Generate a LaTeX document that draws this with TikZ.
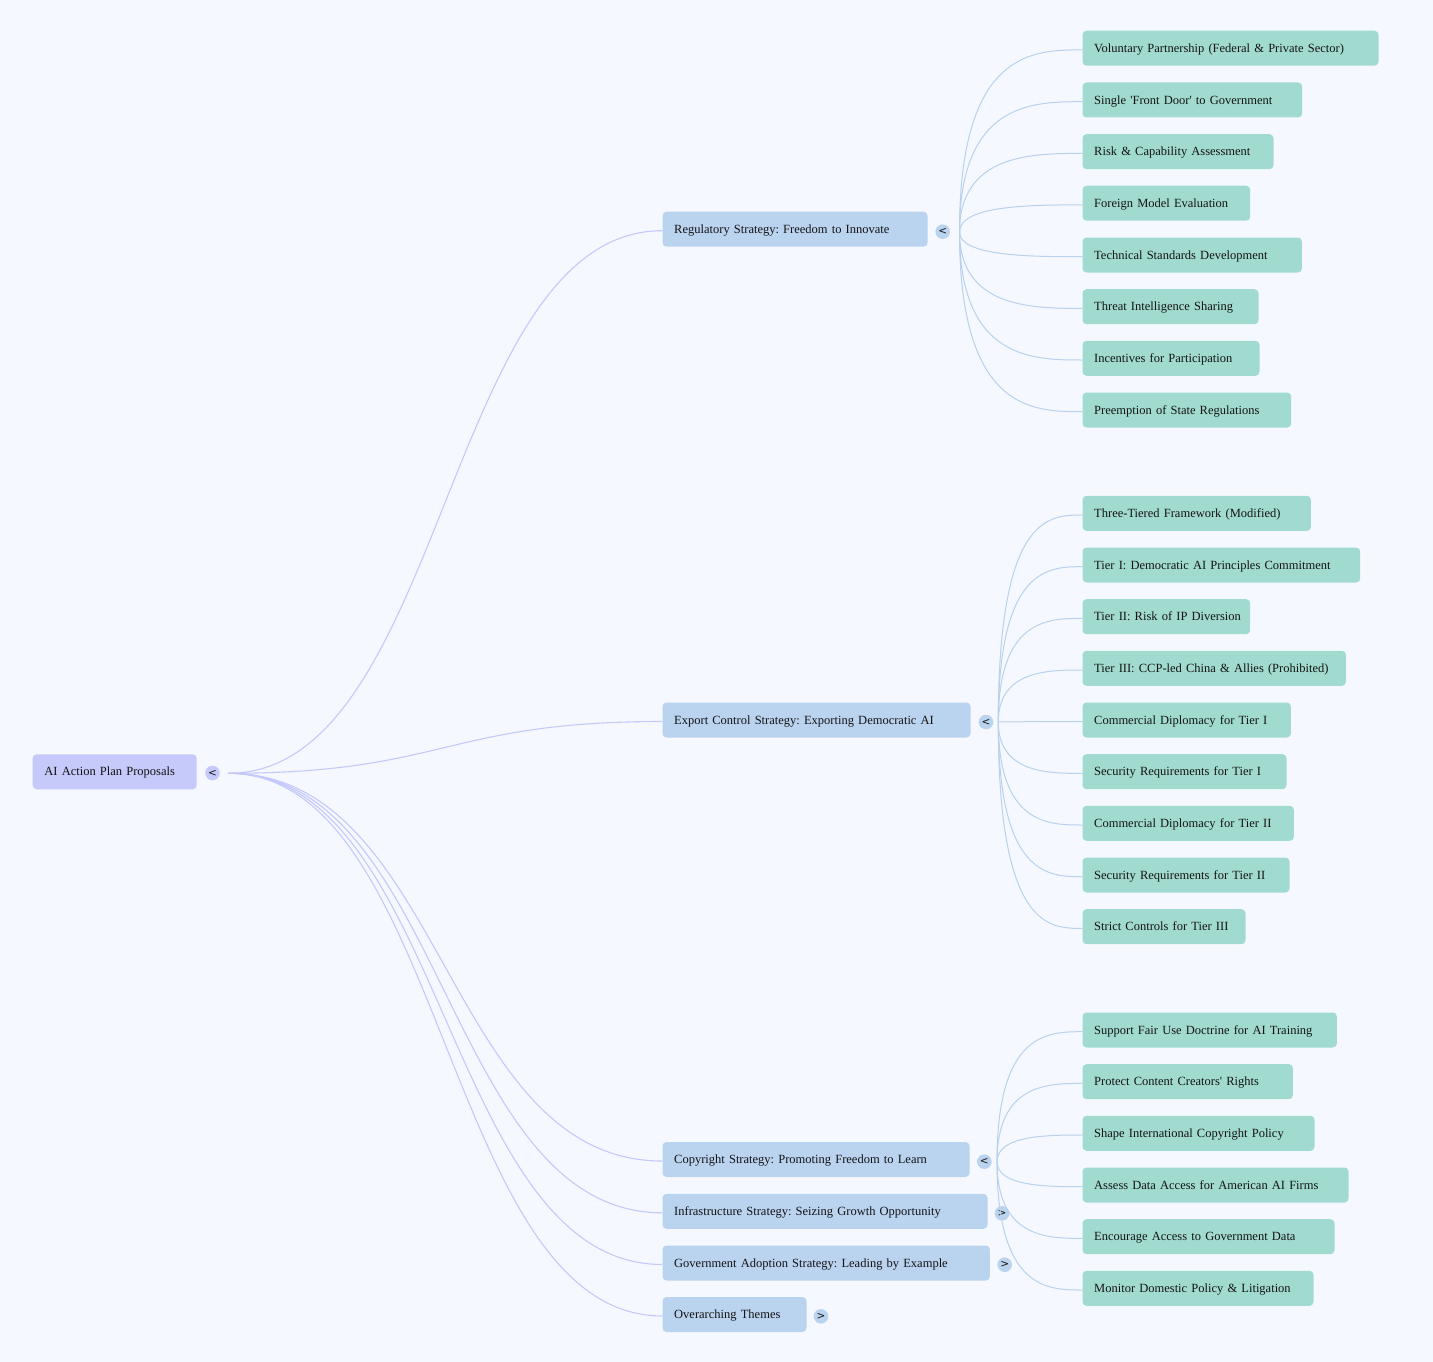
\documentclass[tikz,border=0pt]{standalone}
\usepackage{fontspec}
\setmainfont{Liberation Serif}
\newfontfamily\togfont{DejaVu Sans}
\usetikzlibrary{calc}
\frenchspacing
\definecolor{bgc}{RGB}{245,249,255}
\definecolor{rootc}{RGB}{197,202,251}
\definecolor{midc}{RGB}{186,211,239}
\definecolor{leafc}{RGB}{161,219,207}
\definecolor{rootedgec}{RGB}{196,200,250}
\definecolor{leafedgec}{RGB}{184,209,238}
\definecolor{txtc}{RGB}{20,20,20}
\newcommand\rlink[2]{\draw[rootedge] let \p1=(#1), \p2=([yshift=-1.5pt]#2.west) in (\p1) .. controls ({0.5*\x1+0.5*\x2},\y1) and ({0.5*\x1+0.5*\x2},\y2) .. (\p2);}
\newcommand\llink[2]{\draw[leafedge] let \p1=(#1), \p2=([yshift=-1.7pt]#2.west) in (\p1) .. controls (\x1,\y2) and ({\x1+0.6*(\x2-\x1)},\y2) .. (\p2);}
\begin{document}
\begin{tikzpicture}[x=1pt,y=-1pt,
  box/.style={anchor=west, rounded corners=4pt, minimum height=35pt, inner xsep=11.7pt, inner ysep=0pt,
    align=left, text height=8.3pt, text depth=0pt, font=\fontsize{12.5}{14}\selectfont\frenchspacing, text=txtc,
    execute at begin node={\hbox\bgroup}, execute at end node={\egroup}},
  rootbox/.style={box, fill=rootc},
  midbox/.style={box, fill=midc},
  leafbox/.style={box, fill=leafc},
  tog/.style={circle, minimum size=14.6pt, inner sep=0pt, text=txtc, font=\togfont\fontsize{10.5}{10.5}\selectfont},
  rtog/.style={tog, fill=rootc},
  mtog/.style={tog, fill=midc},
  rootedge/.style={draw=rootedgec, line width=1.1pt},
  leafedge/.style={draw=leafedgec, line width=1pt}]
\useasboundingbox[fill=bgc] (0,0) rectangle (1433,1362);

% root
\node[rootbox, text width=140.6pt] (root) at (32.5,771.8) {AI Action Plan Proposals};
\node[rtog] (troot) at (212.5,773) {<};
\coordinate (froot) at (228.3,773.3);

% mid nodes
\node[midbox, text width=241.6pt] (reg) at (662.3,229.2) {Regulatory Strategy: Freedom to Innovate};
\node[midbox, text width=284.6pt] (exp) at (662.3,720) {Export Control Strategy: Exporting Democratic AI};
\node[midbox, text width=283.6pt] (copy) at (662.3,1159.5) {Copyright Strategy: Promoting Freedom to Learn};
\node[midbox, text width=301.6pt] (infra) at (662.3,1211.3) {Infrastructure Strategy: Seizing Growth Opportunity};
\node[midbox, text width=304pt] (gov) at (662.3,1263) {Government Adoption Strategy: Leading by Example};
\node[midbox, text width=120.6pt] (over) at (662.3,1314.5) {Overarching Themes};

\node[mtog] (treg) at (942.7,231.7) {<};
\node[mtog] (texp) at (986,722) {<};
\node[mtog] (tcopy) at (984.3,1161.7) {<};
\node[mtog] (tinfra) at (1002,1213.3) {>};
\node[mtog] (tgov) at (1004.7,1264.7) {>};
\node[mtog] (tover) at (821,1316.3) {>};

\coordinate (freg) at (959.5,232);
\coordinate (fexp) at (998.3,722);
\coordinate (fcopy) at (997,1161.7);

% regulatory leaves
\node[leafbox, text width=272.6pt] (r1) at (1082.3,48.2) {Voluntary Partnership (Federal \& Private Sector)};
\node[leafbox, text width=196.3pt] (r2) at (1082.3,100) {Single \textquotesingle Front Door\textquotesingle{} to Government};
\node[leafbox, text width=167.6pt] (r3) at (1082.3,151.7) {Risk \& Capability Assessment};
\node[leafbox, text width=144.3pt] (r4) at (1082.3,203.2) {Foreign Model Evaluation};
\node[leafbox, text width=196pt] (r5) at (1082.3,255) {Technical Standards Development};
\node[leafbox, text width=152.6pt] (r6) at (1082.3,306.7) {Threat Intelligence Sharing};
\node[leafbox, text width=153.6pt] (r7) at (1082.3,358.3) {Incentives for Participation};
\node[leafbox, text width=185.3pt] (r8) at (1082.3,410) {Preemption of State Regulations};

% export leaves
\node[leafbox, text width=205pt] (e1) at (1082.3,513.3) {Three-Tiered Framework (Modified)};
\node[leafbox, text width=254.3pt] (e2) at (1082.3,565) {Tier I: Democratic AI Principles Commitment};
\node[leafbox, text width=144.3pt] (e3) at (1082.3,616.7) {Tier II: Risk of IP Diversion};
\node[leafbox, text width=240pt] (e4) at (1082.3,668.3) {Tier III: CCP-led China \& Allies (Prohibited)};
\node[leafbox, text width=185pt] (e5) at (1082.3,720) {Commercial Diplomacy for Tier I};
\node[leafbox, text width=180.6pt] (e6) at (1082.3,771.7) {Security Requirements for Tier I};
\node[leafbox, text width=188pt] (e7) at (1082.3,823.3) {Commercial Diplomacy for Tier II};
\node[leafbox, text width=183.6pt] (e8) at (1082.3,875) {Security Requirements for Tier II};
\node[leafbox, text width=139.6pt] (e9) at (1082.3,926.7) {Strict Controls for Tier III};

% copyright leaves
\node[leafbox, text width=231pt] (c1) at (1082.3,1030) {Support Fair Use Doctrine for AI Training};
\node[leafbox, text width=187pt] (c2) at (1082.3,1081.7) {Protect Content Creators\textquotesingle{} Rights};
\node[leafbox, text width=208.6pt] (c3) at (1082.3,1133.3) {Shape International Copyright Policy};
\node[leafbox, text width=242.6pt] (c4) at (1082.3,1185) {Assess Data Access for American AI Firms};
\node[leafbox, text width=228.6pt] (c5) at (1082.3,1236.7) {Encourage Access to Government Data};
\node[leafbox, text width=207.6pt] (c6) at (1082.3,1288.3) {Monitor Domestic Policy \& Litigation};

% root links
\rlink{froot}{reg}
\rlink{froot}{exp}
\rlink{froot}{copy}
\rlink{froot}{infra}
\rlink{froot}{gov}
\rlink{froot}{over}

% leaf links
\foreach \nm in {r1,r2,r3,r4,r5,r6,r7,r8}{\llink{freg}{\nm}}
\foreach \nm in {e1,e2,e3,e4,e5,e6,e7,e8,e9}{\llink{fexp}{\nm}}
\foreach \nm in {c1,c2,c3,c4,c5,c6}{\llink{fcopy}{\nm}}
\end{tikzpicture}
\end{document}
